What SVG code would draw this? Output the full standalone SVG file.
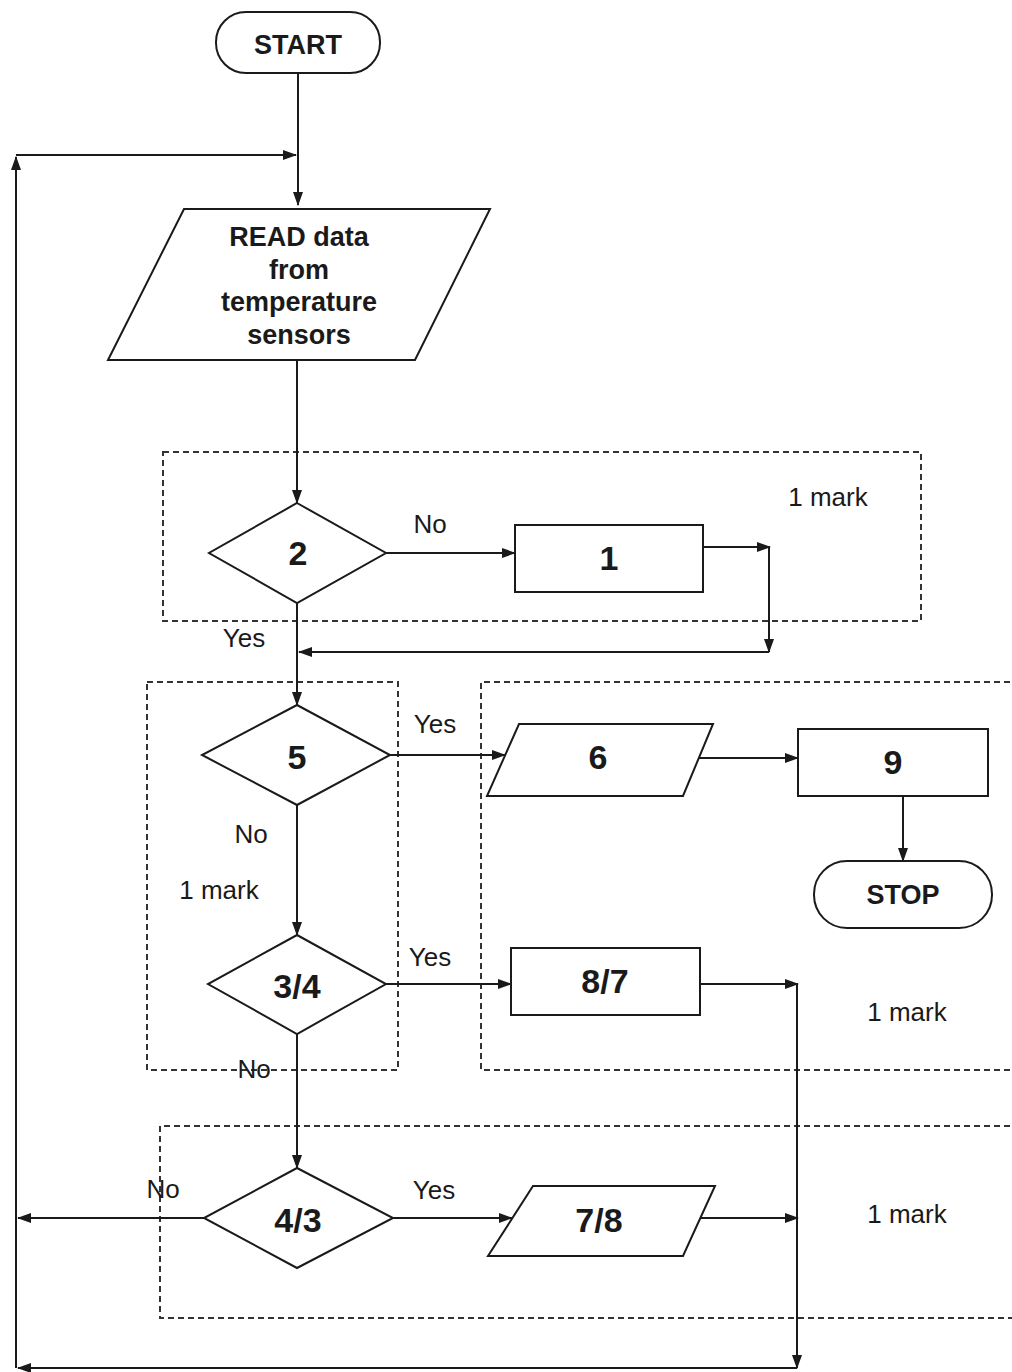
<svg xmlns="http://www.w3.org/2000/svg" width="1012" height="1372" viewBox="0 0 1012 1372">
<defs>
<marker id="ah" markerWidth="14" markerHeight="10" refX="13" refY="5" orient="auto" markerUnits="userSpaceOnUse">
<path d="M0,0 L14,5 L0,10 Z" fill="#1a1a1a"/>
</marker>
</defs>
<style>
.s{fill:#fff;stroke:#1a1a1a;stroke-width:2}
.c{fill:none;stroke:#1a1a1a;stroke-width:2}
.d{fill:none;stroke:#333;stroke-width:2;stroke-dasharray:6 4}
.b{font-family:"Liberation Sans",Arial,sans-serif;font-weight:bold;font-size:27px;fill:#1a1a1a;text-anchor:middle;dominant-baseline:central}
.n{font-family:"Liberation Sans",Arial,sans-serif;font-weight:bold;font-size:34px;fill:#1a1a1a;text-anchor:middle;dominant-baseline:central}
.l{font-family:"Liberation Sans",Arial,sans-serif;font-size:26px;fill:#1a1a1a;text-anchor:middle;dominant-baseline:central}
</style>
<rect width="1012" height="1372" fill="#fff"/>
<g id="groups">
<rect class="d" x="163" y="452" width="758" height="169"/>
<rect class="d" x="147" y="682" width="251" height="388"/>
<path class="d" d="M1020,682 H481 V1070 H1020"/>
<path class="d" d="M1020,1126 H160 V1318 H1020"/>
</g>
<g id="connectors">
<path class="c" d="M298,73 V205" marker-end="url(#ah)"/>
<path class="c" d="M16,155 H296" marker-end="url(#ah)"/>
<path class="c" d="M16,1368 V157" marker-end="url(#ah)"/>
<path class="c" d="M297,360 V503" marker-end="url(#ah)"/>
<path class="c" d="M386,553 H515" marker-end="url(#ah)"/>
<path class="c" d="M703,547 H770" marker-end="url(#ah)"/>
<path class="c" d="M769,547 V652" marker-end="url(#ah)"/>
<path class="c" d="M769,652 H299" marker-end="url(#ah)"/>
<path class="c" d="M297,603 V705" marker-end="url(#ah)"/>
<path class="c" d="M390,755 H505" marker-end="url(#ah)"/>
<path class="c" d="M699,758 H798" marker-end="url(#ah)"/>
<path class="c" d="M903,796 V861" marker-end="url(#ah)"/>
<path class="c" d="M297,805 V935" marker-end="url(#ah)"/>
<path class="c" d="M386,984 H511" marker-end="url(#ah)"/>
<path class="c" d="M700,984 H798" marker-end="url(#ah)"/>
<path class="c" d="M797,984 V1368" marker-end="url(#ah)"/>
<path class="c" d="M797,1368 H18" marker-end="url(#ah)"/>
<path class="c" d="M297,1034 V1168" marker-end="url(#ah)"/>
<path class="c" d="M204,1218 H18" marker-end="url(#ah)"/>
<path class="c" d="M393,1218 H512" marker-end="url(#ah)"/>
<path class="c" d="M700,1218 H798" marker-end="url(#ah)"/>
</g>
<g id="start">
<rect class="s" x="216" y="12" width="164" height="61" rx="30" ry="30"/>
<text class="b" x="298" y="45">START</text>
</g>
<g id="read">
<path class="s" d="M184,209 H490 L415,360 H108 Z"/>
<text class="b" x="299" y="237">READ data</text>
<text class="b" x="299" y="270">from</text>
<text class="b" x="299" y="302">temperature</text>
<text class="b" x="299" y="335">sensors</text>
</g>
<g id="d2">
<path class="s" d="M297,503 L386,553 L297,603 L209,553 Z"/>
<text class="n" x="298" y="553">2</text>
</g>
<g id="box1">
<rect class="s" x="515" y="525" width="188" height="67"/>
<text class="n" x="609" y="558">1</text>
</g>
<g id="d5">
<path class="s" d="M297,705 L390,755 L297,805 L202,755 Z"/>
<text class="n" x="297" y="757">5</text>
</g>
<g id="p6">
<path class="s" d="M519,724 H713 L683,796 H487 Z"/>
<text class="n" x="598" y="757">6</text>
</g>
<g id="box9">
<rect class="s" x="798" y="729" width="190" height="67"/>
<text class="n" x="893" y="762">9</text>
</g>
<g id="stop">
<rect class="s" x="814" y="861" width="178" height="67" rx="33" ry="33"/>
<text class="b" x="903" y="895">STOP</text>
</g>
<g id="d34">
<path class="s" d="M297,935 L386,984 L297,1034 L208,984 Z"/>
<text class="n" x="297" y="986">3/4</text>
</g>
<g id="box87">
<rect class="s" x="511" y="948" width="189" height="67"/>
<text class="n" x="605" y="981">8/7</text>
</g>
<g id="d43">
<path class="s" d="M297,1168 L393,1218 L297,1268 L204,1218 Z"/>
<text class="n" x="298" y="1220">4/3</text>
</g>
<g id="p78">
<path class="s" d="M533,1186 H715 L683,1256 H488 Z"/>
<text class="n" x="599" y="1220">7/8</text>
</g>
<g id="labels">
<text class="l" x="828" y="497">1 mark</text>
<text class="l" x="430" y="524">No</text>
<text class="l" x="244" y="638">Yes</text>
<text class="l" x="435" y="724">Yes</text>
<text class="l" x="251" y="834">No</text>
<text class="l" x="219" y="890">1 mark</text>
<text class="l" x="430" y="957">Yes</text>
<text class="l" x="907" y="1012">1 mark</text>
<text class="l" x="254" y="1069">No</text>
<text class="l" x="163" y="1189">No</text>
<text class="l" x="434" y="1190">Yes</text>
<text class="l" x="907" y="1214">1 mark</text>
</g>
</svg>
